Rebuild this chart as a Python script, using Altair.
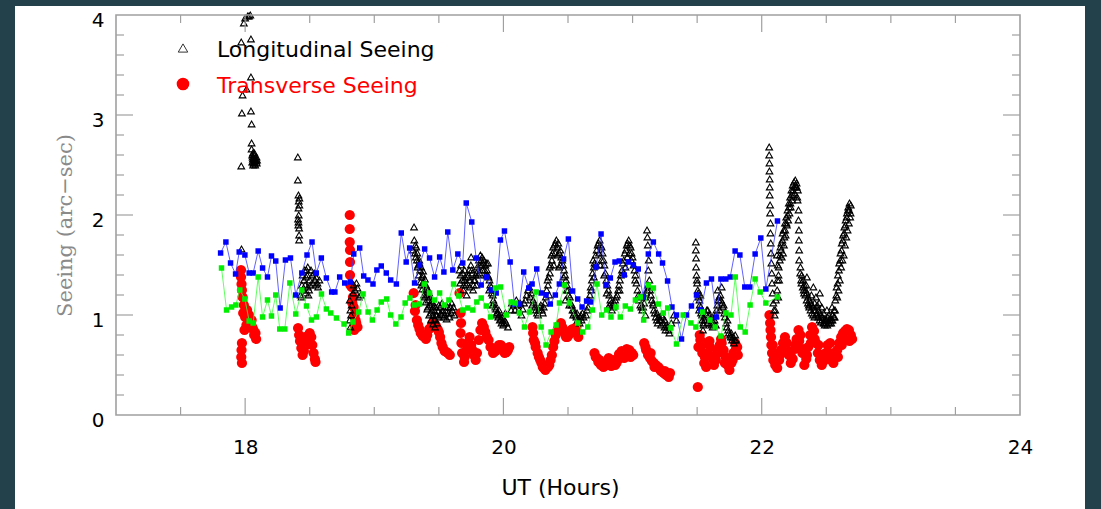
import altair as alt
import pandas as pd

# ---------------------------------------------------------------- data
# Longitudinal seeing (arc-sec) against UT hours
longitudinal = [
    (17.990, 3.92), (18.000, 3.97), (18.020, 3.99), (18.030, 3.99), (18.040, 4.00),
    (17.970, 3.73), (18.045, 3.76), (18.045, 3.38), (18.011, 3.26), (17.980, 3.20),
    (17.975, 3.02), (18.045, 3.04), (18.050, 2.91), (18.050, 2.72), (17.970, 2.49),
    (18.050, 2.66), (18.055, 2.60), (18.060, 2.56), (18.065, 2.52), (18.070, 2.55),
    (18.075, 2.52), (18.080, 2.58), (18.060, 2.62), (18.070, 2.60), (18.085, 2.54),
    (18.055, 2.53), (18.065, 2.57), (18.078, 2.50), (18.090, 2.52), (17.972, 1.66),
    (18.058, 2.58), (18.068, 2.54), (18.072, 2.62), (18.082, 2.55), (18.088, 2.58),
    (18.062, 2.50), (18.092, 2.55),
    (18.408, 2.58), (18.408, 2.35), (18.413, 2.20), (18.415, 2.14), (18.413, 2.07),
    (18.415, 2.00), (18.413, 1.93), (18.418, 1.87), (18.418, 1.75), (18.410, 1.96),
    (18.420, 2.10), (18.418, 1.80), (18.420, 2.17), (18.412, 1.90),
    (18.460, 1.45), (18.485, 1.48), (18.472, 1.38), (18.450, 1.25), (18.437, 1.18),
    (18.485, 1.28), (18.525, 1.32), (18.550, 1.38), (18.565, 1.28), (18.510, 1.45),
    (18.440, 1.30), (18.470, 1.22), (18.500, 1.35), (18.535, 1.42), (18.455, 1.35),
    (18.430, 1.20), (18.495, 1.25), (18.545, 1.30), (18.575, 1.35),
    (18.445, 1.40), (18.465, 1.30), (18.480, 1.40), (18.505, 1.30), (18.520, 1.40),
    (18.540, 1.35), (18.560, 1.32), (18.475, 1.45), (18.490, 1.20),
    (18.810, 1.15), (18.815, 1.05), (18.810, 0.95), (18.835, 1.22), (18.870, 1.27),
    (18.895, 1.20), (18.825, 1.10), (18.815, 0.88), (18.850, 1.25), (18.880, 1.18),
    (18.820, 1.00), (18.840, 1.30), (18.862, 1.32),
    (19.308, 1.88), (19.310, 1.75), (19.300, 1.65), (19.322, 1.58), (19.335, 1.48),
    (19.345, 1.40), (19.358, 1.33), (19.372, 1.26), (19.385, 1.20), (19.398, 1.13),
    (19.410, 1.06), (19.425, 1.00), (19.440, 0.95), (19.455, 0.91), (19.470, 0.88),
    (19.315, 1.62), (19.330, 1.55), (19.340, 1.50), (19.355, 1.45), (19.368, 1.38),
    (19.380, 1.32), (19.395, 1.26), (19.408, 1.20), (19.420, 1.15), (19.432, 1.10),
    (19.445, 1.05), (19.458, 1.00), (19.470, 0.96), (19.485, 0.92), (19.500, 0.98),
    (19.515, 1.02), (19.530, 1.05), (19.545, 1.00), (19.560, 0.96), (19.575, 1.02),
    (19.590, 1.08), (19.605, 1.05), (19.620, 1.00), (19.325, 1.68), (19.350, 1.52),
    (19.375, 1.40), (19.400, 1.30), (19.425, 1.22), (19.450, 1.12), (19.475, 1.08),
    (19.500, 1.10), (19.525, 1.12), (19.550, 1.08), (19.600, 1.12),
    (19.318, 1.70), (19.333, 1.62), (19.348, 1.55), (19.362, 1.48), (19.378, 1.44),
    (19.392, 1.36), (19.405, 1.28), (19.418, 1.25), (19.430, 1.18), (19.442, 1.14),
    (19.455, 1.08), (19.468, 1.04), (19.480, 1.00), (19.495, 1.04), (19.510, 1.08),
    (19.522, 1.00), (19.538, 0.98), (19.552, 1.04), (19.568, 1.08), (19.582, 0.98),
    (19.595, 1.02), (19.612, 1.08), (19.365, 1.30), (19.390, 1.18), (19.415, 1.08),
    (19.438, 1.02), (19.462, 0.95),
    (19.660, 1.45), (19.672, 1.50), (19.685, 1.42), (19.698, 1.35), (19.710, 1.30),
    (19.722, 1.38), (19.735, 1.45), (19.748, 1.50), (19.760, 1.42), (19.772, 1.35),
    (19.785, 1.40), (19.798, 1.48), (19.810, 1.55), (19.822, 1.60), (19.835, 1.58),
    (19.848, 1.55), (19.860, 1.50), (19.872, 1.45), (19.885, 1.38), (19.898, 1.30),
    (19.910, 1.22), (19.922, 1.15), (19.935, 1.08), (19.948, 1.02), (19.960, 0.98),
    (19.972, 0.95), (19.985, 0.92), (19.998, 0.90), (20.010, 0.95), (20.022, 0.92),
    (20.035, 0.88), (19.665, 1.32), (19.690, 1.25), (19.715, 1.20), (19.740, 1.28),
    (19.765, 1.25), (19.790, 1.30), (19.815, 1.42), (19.840, 1.45), (19.865, 1.40),
    (19.890, 1.25), (19.915, 1.10), (19.940, 1.00), (19.965, 1.05), (19.990, 0.98),
    (20.015, 1.02), (19.700, 1.45), (19.750, 1.58), (19.830, 1.50), (19.880, 1.52),
    (19.668, 1.40), (19.680, 1.35), (19.692, 1.30), (19.705, 1.38), (19.718, 1.32),
    (19.730, 1.40), (19.742, 1.35), (19.755, 1.45), (19.768, 1.30), (19.780, 1.35),
    (19.792, 1.42), (19.805, 1.40), (19.818, 1.50), (19.828, 1.55), (19.842, 1.52),
    (19.855, 1.45), (19.868, 1.52), (19.878, 1.40), (19.892, 1.35), (19.905, 1.28),
    (19.918, 1.20), (19.930, 1.12), (19.943, 1.06), (19.955, 1.02), (19.968, 1.00),
    (19.980, 0.96), (19.993, 0.94), (20.005, 0.92),
    (20.060, 1.05), (20.080, 1.10), (20.100, 1.15), (20.120, 1.05), (20.140, 1.00),
    (20.160, 1.12), (20.180, 1.20), (20.200, 1.28), (20.215, 1.22), (20.230, 1.15),
    (20.245, 1.08), (20.260, 1.02), (20.275, 1.05), (20.290, 1.10), (20.305, 1.02),
    (20.320, 1.12), (20.335, 1.25), (20.350, 1.38), (20.365, 1.50), (20.380, 1.62),
    (20.395, 1.70), (20.410, 1.75), (20.425, 1.72), (20.440, 1.65), (20.455, 1.55),
    (20.470, 1.45), (20.485, 1.35), (20.500, 1.25), (20.515, 1.18), (20.530, 1.10),
    (20.545, 1.05), (20.560, 1.00), (20.575, 0.95), (20.590, 0.92), (20.605, 0.95),
    (20.620, 0.98), (20.345, 1.30), (20.360, 1.42), (20.375, 1.55), (20.400, 1.62),
    (20.420, 1.60), (20.445, 1.50), (20.465, 1.38), (20.490, 1.25), (20.510, 1.10),
    (20.540, 1.00), (20.570, 1.02), (20.600, 1.00), (20.355, 1.20), (20.390, 1.50),
    (20.430, 1.48), (20.480, 1.15),
    (20.065, 1.12), (20.090, 1.05), (20.110, 1.10), (20.130, 1.12), (20.150, 1.06),
    (20.170, 1.15), (20.190, 1.25), (20.208, 1.18), (20.222, 1.10), (20.238, 1.12),
    (20.252, 1.05), (20.268, 1.00), (20.282, 1.08), (20.298, 1.05), (20.312, 1.08),
    (20.328, 1.18), (20.342, 1.35), (20.358, 1.48), (20.372, 1.60), (20.385, 1.68),
    (20.402, 1.72), (20.418, 1.68), (20.432, 1.62), (20.448, 1.58), (20.462, 1.50),
    (20.478, 1.40), (20.492, 1.30), (20.505, 1.20), (20.520, 1.12), (20.535, 1.05),
    (20.550, 1.02), (20.565, 0.98), (20.580, 0.96), (20.595, 0.98), (20.612, 1.02),
    (20.640, 1.00), (20.655, 1.08), (20.670, 1.20), (20.685, 1.35), (20.700, 1.48),
    (20.715, 1.60), (20.730, 1.70), (20.745, 1.75), (20.760, 1.68), (20.775, 1.55),
    (20.790, 1.42), (20.805, 1.30), (20.820, 1.20), (20.835, 1.12), (20.850, 1.08),
    (20.865, 1.15), (20.680, 1.25), (20.700, 1.38), (20.720, 1.50), (20.740, 1.62),
    (20.760, 1.55), (20.780, 1.40), (20.800, 1.22), (20.820, 1.10), (20.840, 1.05),
    (20.695, 1.55), (20.750, 1.50),
    (20.648, 1.05), (20.662, 1.15), (20.676, 1.28), (20.690, 1.42), (20.705, 1.52),
    (20.722, 1.65), (20.736, 1.72), (20.752, 1.70), (20.768, 1.62), (20.782, 1.50),
    (20.797, 1.35), (20.812, 1.25), (20.828, 1.15), (20.842, 1.10), (20.858, 1.12),
    (20.872, 1.18),
    (20.880, 1.20), (20.895, 1.30), (20.910, 1.40), (20.925, 1.52), (20.940, 1.62),
    (20.955, 1.70), (20.970, 1.75), (20.985, 1.68), (21.000, 1.58), (21.015, 1.45),
    (21.030, 1.32), (21.045, 1.20), (21.060, 1.10), (20.900, 1.25), (20.930, 1.42),
    (20.960, 1.58), (20.990, 1.55), (21.020, 1.35), (21.050, 1.15), (20.945, 1.48),
    (20.975, 1.62),
    (20.888, 1.25), (20.902, 1.35), (20.918, 1.45), (20.932, 1.55), (20.948, 1.65),
    (20.962, 1.72), (20.978, 1.70), (20.992, 1.62), (21.008, 1.50), (21.022, 1.40),
    (21.038, 1.25), (21.052, 1.18), (21.068, 1.08),
    (21.112, 1.85), (21.115, 1.78), (21.118, 1.70), (21.075, 1.05), (21.090, 1.12),
    (21.105, 1.22), (21.120, 1.30), (21.135, 1.25), (21.150, 1.15), (21.165, 1.05),
    (21.180, 0.98), (21.195, 0.92), (21.210, 0.95), (21.225, 1.00), (21.240, 0.92),
    (21.255, 0.85), (21.270, 0.88), (21.285, 0.82), (21.100, 1.00), (21.130, 1.35),
    (21.160, 1.10), (21.190, 1.02), (21.220, 0.90), (21.250, 0.95), (21.125, 1.55),
    (21.122, 1.45), (21.300, 0.92), (21.320, 1.00), (21.340, 0.95),
    (21.082, 1.08), (21.098, 1.18), (21.112, 1.25), (21.128, 1.28), (21.142, 1.20),
    (21.158, 1.12), (21.172, 1.02), (21.188, 0.95), (21.202, 0.98), (21.218, 0.95),
    (21.232, 0.98), (21.248, 0.88), (21.262, 0.90), (21.278, 0.85),
    (21.490, 1.73), (21.490, 1.65), (21.492, 1.57), (21.492, 1.48), (21.495, 1.40),
    (21.500, 1.32), (21.505, 1.25), (21.510, 1.18), (21.520, 1.10), (21.530, 1.02),
    (21.540, 0.95), (21.550, 0.90), (21.560, 0.98), (21.575, 1.05), (21.590, 1.00),
    (21.605, 0.92), (21.620, 0.88), (21.635, 0.95), (21.650, 1.05), (21.665, 1.15),
    (21.680, 1.20), (21.695, 1.12), (21.710, 1.02), (21.725, 0.92), (21.740, 0.85),
    (21.755, 0.80), (21.770, 0.75), (21.785, 0.72), (21.800, 0.75), (21.515, 1.05),
    (21.545, 0.85), (21.580, 0.92), (21.615, 0.98), (21.645, 0.90), (21.675, 1.05),
    (21.705, 1.10), (21.735, 0.95), (21.765, 0.82), (21.795, 0.80), (21.525, 1.20),
    (21.660, 1.25), (21.690, 1.28),
    (21.498, 1.35), (21.508, 1.22), (21.518, 1.15), (21.528, 1.08), (21.538, 1.00),
    (21.548, 0.92), (21.558, 0.95), (21.568, 1.02), (21.582, 1.05), (21.598, 0.95),
    (21.612, 0.90), (21.628, 0.92), (21.642, 1.00), (21.656, 1.10), (21.670, 1.18),
    (21.685, 1.15), (21.700, 1.08), (21.715, 0.98), (21.730, 0.88), (21.745, 0.82),
    (21.760, 0.78), (21.775, 0.78), (21.790, 0.75),
    (22.058, 2.68), (22.058, 2.60), (22.060, 2.52), (22.060, 2.44), (22.062, 2.36),
    (22.062, 2.28), (22.062, 2.20), (22.065, 2.10), (22.065, 2.02), (22.068, 1.92),
    (22.068, 1.82), (22.070, 1.72), (22.072, 1.62), (22.075, 1.52), (22.078, 1.42),
    (22.080, 1.32), (22.085, 1.22), (22.090, 1.12), (22.095, 1.05), (22.100, 1.00),
    (22.105, 1.05), (22.110, 1.15),
    (22.120, 1.25), (22.130, 1.40), (22.140, 1.55), (22.150, 1.65), (22.160, 1.75),
    (22.170, 1.85), (22.180, 1.92), (22.190, 1.98), (22.200, 2.05), (22.210, 2.12),
    (22.220, 2.18), (22.230, 2.25), (22.240, 2.30), (22.250, 2.33), (22.260, 2.35),
    (22.270, 2.32), (22.280, 2.25), (22.135, 1.35), (22.155, 1.58), (22.175, 1.78),
    (22.195, 1.90), (22.215, 2.02), (22.235, 2.15), (22.255, 2.22), (22.275, 2.18),
    (22.125, 1.50), (22.145, 1.68), (22.165, 1.62), (22.185, 1.80), (22.205, 1.95),
    (22.225, 2.08), (22.245, 2.20), (22.265, 2.28), (22.118, 1.60), (22.128, 1.18),
    (22.122, 1.35), (22.132, 1.48), (22.142, 1.60), (22.152, 1.72), (22.162, 1.82),
    (22.172, 1.70), (22.182, 1.85), (22.192, 1.92), (22.202, 2.00), (22.212, 2.08),
    (22.222, 2.12), (22.232, 2.20), (22.242, 2.25), (22.252, 2.28), (22.262, 2.30),
    (22.272, 2.28), (22.278, 2.15),
    (22.285, 2.05), (22.285, 1.95), (22.288, 1.85), (22.288, 1.75), (22.290, 1.65),
    (22.290, 1.55),
    (22.300, 1.48), (22.310, 1.40), (22.320, 1.35), (22.330, 1.30), (22.340, 1.25),
    (22.350, 1.22), (22.360, 1.18), (22.370, 1.15), (22.380, 1.12), (22.390, 1.10),
    (22.400, 1.08), (22.410, 1.12), (22.420, 1.18), (22.430, 1.10), (22.440, 1.05),
    (22.450, 1.02), (22.460, 1.00), (22.470, 0.98), (22.480, 1.02), (22.490, 0.96),
    (22.500, 0.95), (22.510, 0.98), (22.520, 1.00), (22.530, 0.97), (22.540, 0.95),
    (22.550, 1.00), (22.560, 1.05), (22.570, 1.15), (22.580, 1.28), (22.590, 1.40),
    (22.600, 1.52), (22.610, 1.62), (22.620, 1.72), (22.630, 1.80), (22.640, 1.88),
    (22.650, 1.95), (22.660, 2.02), (22.670, 2.08), (22.680, 2.12), (22.690, 2.10),
    (22.305, 1.35), (22.325, 1.25), (22.345, 1.30), (22.365, 1.10), (22.385, 1.20),
    (22.405, 1.05), (22.425, 1.00), (22.445, 1.12), (22.465, 1.08), (22.485, 0.92),
    (22.505, 1.05), (22.525, 0.92), (22.545, 1.08), (22.565, 0.98), (22.585, 1.18),
    (22.605, 1.35), (22.625, 1.55), (22.645, 1.70), (22.665, 1.85), (22.685, 1.98),
    (22.595, 1.25), (22.615, 1.48), (22.635, 1.60), (22.655, 1.78), (22.675, 1.92),
    (22.450, 1.22), (22.400, 1.28), (22.350, 1.38),
    (22.298, 1.42), (22.308, 1.32), (22.318, 1.28), (22.328, 1.22), (22.338, 1.20),
    (22.348, 1.15), (22.358, 1.12), (22.368, 1.08), (22.378, 1.05), (22.388, 1.02),
    (22.398, 1.00), (22.408, 0.98), (22.418, 1.05), (22.428, 1.02), (22.438, 0.98),
    (22.448, 0.95), (22.458, 0.93), (22.468, 0.95), (22.478, 0.92), (22.488, 0.90),
    (22.498, 0.92), (22.508, 0.90), (22.518, 0.93), (22.528, 0.95), (22.538, 0.92),
    (22.548, 0.95), (22.558, 0.98), (22.568, 1.05), (22.578, 1.20), (22.588, 1.32),
    (22.598, 1.45), (22.608, 1.55), (22.618, 1.65), (22.628, 1.75), (22.638, 1.82),
    (22.648, 1.90), (22.658, 1.98), (22.668, 2.05), (22.678, 2.05), (22.688, 2.02),
]

# Transverse seeing (arc-sec) against UT hours
transverse = [
    (17.968, 1.45), (17.968, 1.38), (17.972, 1.31), (17.975, 1.25), (17.980, 1.18),
    (17.990, 1.10), (17.985, 1.02), (18.000, 0.98), (18.015, 1.05), (18.030, 1.00),
    (18.040, 0.94), (18.055, 0.88), (18.070, 0.80), (18.085, 0.76), (18.050, 0.95),
    (18.010, 0.90), (17.995, 0.85), (17.975, 0.72), (17.972, 0.65), (17.970, 0.58),
    (17.975, 0.52), (18.065, 0.85), (18.080, 0.82),
    (18.410, 0.87), (18.418, 0.80), (18.425, 0.74), (18.435, 0.67), (18.445, 0.60),
    (18.455, 0.64), (18.470, 0.70), (18.485, 0.77), (18.500, 0.82), (18.512, 0.78),
    (18.520, 0.70), (18.530, 0.62), (18.540, 0.56), (18.545, 0.53), (18.462, 0.78),
    (18.810, 2.00), (18.810, 1.86), (18.810, 1.73), (18.812, 1.65), (18.812, 1.53),
    (18.812, 1.40), (18.825, 1.28), (18.835, 1.18), (18.840, 1.08), (18.848, 1.00),
    (18.850, 0.90), (18.830, 1.12), (18.815, 1.30), (18.855, 0.95), (18.845, 0.85),
    (18.860, 0.92), (18.870, 0.88),
    (19.305, 1.22), (19.315, 1.04), (19.330, 0.95), (19.350, 0.86), (19.375, 0.79),
    (19.400, 0.76), (19.425, 0.86), (19.450, 0.92), (19.475, 0.90), (19.500, 0.83),
    (19.520, 0.72), (19.545, 0.64), (19.570, 0.62), (19.585, 0.60), (19.320, 1.10),
    (19.340, 0.90), (19.360, 0.82), (19.390, 0.80), (19.410, 0.80), (19.440, 0.88),
    (19.460, 0.93), (19.490, 0.86), (19.510, 0.78), (19.530, 0.68), (19.560, 0.63),
    (19.660, 1.22), (19.668, 1.02), (19.668, 0.82), (19.680, 0.62), (19.695, 0.53),
    (19.715, 0.65), (19.738, 0.78), (19.760, 0.65), (19.785, 0.55), (19.810, 0.75),
    (19.835, 0.92), (19.860, 0.83), (19.885, 0.75), (19.920, 0.62), (19.955, 0.67),
    (19.980, 0.70), (20.000, 0.66), (20.025, 0.63), (20.045, 0.68), (19.672, 0.92),
    (19.675, 0.72), (19.700, 0.58), (19.725, 0.72), (19.750, 0.70), (19.770, 0.60),
    (19.795, 0.62), (19.822, 0.85), (19.848, 0.88), (19.872, 0.78), (19.900, 0.68),
    (19.940, 0.64), (19.965, 0.70), (19.990, 0.68), (20.010, 0.62), (20.035, 0.65),
    (20.225, 0.88), (20.235, 0.75), (20.250, 0.68), (20.265, 0.62), (20.285, 0.55),
    (20.305, 0.48), (20.325, 0.45), (20.345, 0.48), (20.365, 0.55), (20.385, 0.68),
    (20.405, 0.80), (20.425, 0.87), (20.445, 0.92), (20.465, 0.85), (20.485, 0.78),
    (20.505, 0.80), (20.525, 0.85), (20.545, 0.83), (20.565, 0.88), (20.580, 0.78),
    (20.230, 0.82), (20.245, 0.72), (20.275, 0.58), (20.295, 0.52), (20.315, 0.47),
    (20.355, 0.50), (20.375, 0.60), (20.395, 0.74), (20.415, 0.84), (20.435, 0.90),
    (20.455, 0.88), (20.475, 0.82), (20.495, 0.78), (20.515, 0.83), (20.535, 0.86),
    (20.555, 0.86), (20.575, 0.82),
    (20.705, 0.62), (20.725, 0.57), (20.745, 0.55), (20.765, 0.52), (20.785, 0.50),
    (20.805, 0.53), (20.825, 0.55), (20.845, 0.52), (20.865, 0.50), (20.885, 0.55),
    (20.905, 0.58), (20.925, 0.60), (20.945, 0.63), (20.965, 0.62), (20.985, 0.58),
    (21.005, 0.60), (20.715, 0.58), (20.735, 0.53), (20.755, 0.50), (20.775, 0.48),
    (20.795, 0.50), (20.815, 0.57), (20.835, 0.49), (20.855, 0.55), (20.875, 0.52),
    (20.895, 0.61), (20.915, 0.64), (20.935, 0.57), (20.955, 0.66), (20.975, 0.65),
    (20.995, 0.62),
    (21.090, 0.72), (21.105, 0.65), (21.120, 0.60), (21.135, 0.57), (21.150, 0.54),
    (21.165, 0.52), (21.180, 0.50), (21.200, 0.48), (21.220, 0.44), (21.240, 0.42),
    (21.260, 0.40), (21.280, 0.38), (21.100, 0.68), (21.140, 0.62), (21.170, 0.48),
    (21.210, 0.46), (21.250, 0.44), (21.290, 0.42),
    (21.505, 0.28), (21.510, 0.68), (21.525, 0.75), (21.540, 0.62), (21.555, 0.52),
    (21.570, 0.48), (21.585, 0.62), (21.600, 0.68), (21.615, 0.58), (21.630, 0.50),
    (21.645, 0.55), (21.660, 0.62), (21.675, 0.70), (21.690, 0.72), (21.705, 0.65),
    (21.720, 0.58), (21.735, 0.50), (21.750, 0.45), (21.765, 0.52), (21.780, 0.62),
    (21.795, 0.72), (21.810, 0.68), (21.520, 0.80), (21.535, 0.70), (21.560, 0.58),
    (21.595, 0.74), (21.625, 0.55), (21.655, 0.65), (21.685, 0.76), (21.715, 0.52),
    (21.745, 0.52), (21.775, 0.55), (21.800, 0.66), (21.815, 0.60),
    (22.060, 1.00), (22.065, 0.92), (22.068, 0.85), (22.072, 0.78), (22.075, 0.70),
    (22.080, 0.62), (22.090, 0.55), (22.105, 0.50), (22.120, 0.47), (22.135, 0.55),
    (22.150, 0.65), (22.165, 0.72), (22.180, 0.78), (22.195, 0.72), (22.210, 0.60),
    (22.225, 0.52), (22.240, 0.56), (22.255, 0.66), (22.270, 0.76), (22.285, 0.85),
    (22.300, 0.80), (22.315, 0.62), (22.330, 0.50), (22.345, 0.56), (22.360, 0.68),
    (22.375, 0.80), (22.390, 0.88), (22.405, 0.84), (22.420, 0.72), (22.435, 0.62),
    (22.450, 0.55), (22.465, 0.50), (22.480, 0.54), (22.495, 0.62), (22.510, 0.70),
    (22.525, 0.62), (22.540, 0.55), (22.555, 0.52), (22.570, 0.58), (22.585, 0.65),
    (22.600, 0.72), (22.615, 0.78), (22.630, 0.82), (22.645, 0.84), (22.660, 0.86),
    (22.675, 0.85), (22.690, 0.80), (22.700, 0.76), (22.085, 0.70), (22.100, 0.62),
    (22.140, 0.60), (22.170, 0.68), (22.200, 0.64), (22.230, 0.58), (22.260, 0.70),
    (22.290, 0.74), (22.320, 0.66), (22.350, 0.60), (22.380, 0.72), (22.410, 0.76),
    (22.440, 0.70), (22.470, 0.60), (22.500, 0.58), (22.530, 0.72), (22.560, 0.62),
    (22.590, 0.58), (22.620, 0.70), (22.650, 0.76), (22.680, 0.74),
]

# Blue sampled series (squares joined by a line)
blue_ut = [
    17.810, 17.851, 17.887, 17.926, 17.954, 17.998, 18.031, 18.062, 18.101, 18.135,
    18.173, 18.204, 18.237, 18.271, 18.312, 18.351, 18.392, 18.439, 18.479, 18.518,
    18.551, 18.590, 18.629, 18.670, 18.695, 18.732, 18.771, 18.815, 18.841, 18.887,
    18.918, 18.951, 18.990, 19.020, 19.054, 19.093, 19.127, 19.171, 19.209, 19.247,
    19.274, 19.312, 19.351, 19.390, 19.428, 19.467, 19.506, 19.539, 19.569, 19.608,
    19.647, 19.685, 19.712, 19.755, 19.789, 19.828, 19.867, 19.906, 19.944, 19.977,
    20.008, 20.052, 20.085, 20.124, 20.157, 20.196, 20.222, 20.258, 20.292, 20.330,
    20.363, 20.402, 20.433, 20.466, 20.503, 20.536, 20.575, 20.609, 20.644, 20.678,
    20.717, 20.756, 20.794, 20.828, 20.864, 20.897, 20.936, 20.969, 21.006, 21.044,
    21.083, 21.122, 21.161, 21.202, 21.232, 21.271, 21.305, 21.340, 21.379, 21.418,
    21.456, 21.495, 21.529, 21.572, 21.611, 21.650, 21.684, 21.722, 21.756, 21.794,
    21.831, 21.869, 21.908, 21.949, 21.993, 22.032, 22.122,
]
blue_seeing = [
    1.62, 1.73, 1.52, 1.41, 1.63, 1.60, 1.42, 1.42, 1.64, 1.47,
    1.38, 1.59, 1.54, 1.07, 1.55, 1.57, 1.20, 1.42, 1.60, 1.73,
    1.42, 1.57, 1.37, 1.23, 1.23, 1.38, 1.32, 1.33, 1.61, 1.67,
    1.39, 1.35, 1.31, 1.45, 1.49, 1.42, 1.35, 1.31, 1.82, 1.53,
    1.67, 1.32, 1.50, 1.66, 1.57, 1.38, 1.58, 1.43, 1.83, 1.45,
    1.61, 1.52, 2.12, 1.93, 1.57, 1.30, 1.38, 1.25, 1.22, 1.75,
    1.84, 1.53, 1.11, 1.11, 1.43, 1.27, 1.31, 1.46, 1.22, 1.20,
    1.11, 1.20, 1.31, 1.56, 1.76, 1.24, 1.16, 1.08, 1.14, 1.13,
    1.48, 1.81, 1.30, 1.37, 1.53, 1.54, 1.40, 1.53, 1.50, 1.46,
    1.18, 1.61, 1.73, 1.61, 1.52, 1.34, 1.08, 1.00, 0.76, 1.00,
    1.09, 1.20, 1.05, 1.32, 1.36, 0.98, 1.36, 1.36, 1.38, 1.64,
    1.60, 1.28, 1.28, 1.61, 1.77, 1.26, 1.94,
]

# Green sampled series (squares joined by a line)
green_ut = [
    17.817, 17.856, 17.895, 17.928, 17.959, 17.998, 18.031, 18.062, 18.101, 18.135,
    18.173, 18.204, 18.237, 18.268, 18.307, 18.346, 18.392, 18.439, 18.475, 18.514,
    18.552, 18.591, 18.629, 18.663, 18.707, 18.766, 18.802, 18.835, 18.879, 18.913,
    18.952, 18.985, 19.022, 19.054, 19.096, 19.127, 19.167, 19.207, 19.239, 19.276,
    19.312, 19.351, 19.387, 19.428, 19.467, 19.506, 19.541, 19.578, 19.614, 19.655,
    19.686, 19.724, 19.763, 19.794, 19.828, 19.867, 19.900, 19.939, 19.978, 20.022,
    20.060, 20.091, 20.124, 20.163, 20.202, 20.253, 20.292, 20.330, 20.369, 20.408,
    20.434, 20.473, 20.511, 20.575, 20.614, 20.653, 20.689, 20.725, 20.761, 20.799,
    20.833, 20.872, 20.905, 20.944, 20.983, 21.022, 21.060, 21.086, 21.122, 21.161,
    21.200, 21.238, 21.272, 21.297, 21.340, 21.392, 21.452, 21.490, 21.542, 21.599,
    21.640, 21.684, 21.723, 21.762, 21.795, 21.834, 21.872, 21.910, 21.949, 21.988,
    22.032, 22.122,
]
green_seeing = [
    1.47, 1.05, 1.08, 1.10, 1.25, 1.16, 0.94, 0.92, 1.38, 0.98,
    1.15, 0.99, 1.20, 0.86, 0.86, 1.32, 1.01, 1.25, 1.09, 0.95,
    0.98, 1.21, 1.06, 1.02, 0.97, 0.91, 0.82, 0.93, 1.03, 1.21,
    1.03, 0.95, 1.05, 1.13, 1.16, 1.00, 0.91, 0.98, 1.12, 1.17,
    1.10, 1.11, 1.31, 1.22, 1.15, 1.22, 1.10, 1.15, 1.31, 1.19,
    1.05, 1.07, 1.05, 1.13, 1.17, 1.09, 0.98, 1.27, 1.28, 1.00,
    1.13, 1.12, 1.02, 0.88, 1.03, 1.23, 0.88, 0.70, 0.83, 0.90,
    1.12, 1.30, 1.12, 0.92, 0.83, 0.88, 1.05, 1.31, 1.00, 1.05,
    0.98, 1.08, 0.98, 1.09, 1.06, 1.15, 1.18, 0.95, 1.30, 1.27,
    1.11, 1.02, 1.07, 0.87, 0.71, 1.00, 0.92, 0.88, 1.03, 0.95,
    0.88, 0.79, 1.02, 1.00, 1.38, 0.88, 0.83, 1.10, 1.36, 1.23,
    1.12, 1.18,
]

# Axis tick positions
x_major_ticks = [18, 20, 22]
x_minor_ticks = [17.5, 18.5, 19, 19.5, 20.5, 21, 21.5, 22.5, 23, 23.5]
x_labels = [18, 20, 22, 24]
y_major_ticks = [1, 2, 3]
y_minor_ticks = [0.2, 0.4, 0.6, 0.8, 1.2, 1.4, 1.6, 1.8, 2.2, 2.4, 2.6, 2.8,
                 3.2, 3.4, 3.6, 3.8]
y_labels = [0, 1, 2, 3, 4]

# Legend entries
legend_text = ["Longitudinal Seeing", "Transverse Seeing"]

# ---------------------------------------------------------------- frames
long_df = pd.DataFrame(longitudinal, columns=["ut", "seeing"])
trans_df = pd.DataFrame(transverse, columns=["ut", "seeing"])
blue_df = pd.DataFrame({"ut": blue_ut, "seeing": blue_seeing})
green_df = pd.DataFrame({"ut": green_ut, "seeing": green_seeing})
one_row = pd.DataFrame({"k": [0]})

W, H = 904, 400
FRAME = "#a0a0a0"
SANS = "DejaVu Sans"

x_scale = alt.Scale(domain=[17, 24], nice=False, zero=False)
y_scale = alt.Scale(domain=[0, 4], nice=False, zero=True)

x_axis = alt.Axis(
    values=x_labels, format="d", ticks=False, domain=False, grid=False,
    labelFont=SANS, labelFontSize=20, labelColor="black", labelPadding=22,
    labelFlush=False, zindex=2,
    title="UT (Hours)", titleFont=SANS, titleFontSize=22,
    titleFontWeight="normal", titleColor="black",
    titleX=444, titleY=72, titleBaseline="middle",
)
y_axis = alt.Axis(
    values=y_labels, format="d", ticks=False, domain=False, grid=False,
    labelFont=SANS, labelFontSize=20, labelColor="black", labelPadding=12,
    labelBaseline="middle", labelOffset=5, labelFlush=False, zindex=2,
    title="Seeing (arc\u2212sec)", titleFont="DejaVu Serif", titleFontSize=21,
    titleFontWeight="normal", titleColor="#8a8a8a",
    titleAngle=270, titleAlign="center", titleBaseline="middle",
    titleX=-51, titleY=210,
)

X = alt.X("ut:Q", scale=x_scale, axis=x_axis)
Y = alt.Y("seeing:Q", scale=y_scale, axis=y_axis)

deco = alt.Chart(one_row)

# white page behind the plot
page = deco.mark_rect(color="white").encode(
    x=alt.value(-101), x2=alt.value(W + 65), y=alt.value(-9), y2=alt.value(H + 94)
)

red = alt.Chart(trans_df).mark_circle(size=105, color="#ff0000", opacity=1).encode(x=X, y=Y)
black = alt.Chart(long_df).mark_point(
    shape="triangle-up", filled=False, size=45, color="black", strokeWidth=1.1, opacity=1
).encode(x=X, y=Y)

blue_line = alt.Chart(blue_df).mark_line(color="#3a3aff", strokeWidth=1, opacity=0.8).encode(x=X, y=Y)
blue_pts = alt.Chart(blue_df).mark_square(size=30, color="#0000ff", opacity=1).encode(x=X, y=Y)
green_line = alt.Chart(green_df).mark_line(color="#3aff3a", strokeWidth=1, opacity=0.8).encode(x=X, y=Y)
green_pts = alt.Chart(green_df).mark_square(size=30, color="#00ee00", opacity=1).encode(x=X, y=Y)

# inward tick marks on all four sides
xt_major = pd.DataFrame({"ut": x_major_ticks})
xt_minor = pd.DataFrame({"ut": x_minor_ticks})
yt_major = pd.DataFrame({"seeing": y_major_ticks})
yt_minor = pd.DataFrame({"seeing": y_minor_ticks})


def x_ticks(df, length):
    bottom = alt.Chart(df).mark_rule(color=FRAME, strokeWidth=1.2).encode(
        x=X, y=alt.value(H), y2=alt.value(H - length))
    top = alt.Chart(df).mark_rule(color=FRAME, strokeWidth=1.2).encode(
        x=X, y=alt.value(0), y2=alt.value(length))
    return bottom + top


def y_ticks(df, length):
    left = alt.Chart(df).mark_rule(color=FRAME, strokeWidth=1.2).encode(
        y=Y, x=alt.value(0), x2=alt.value(length))
    right = alt.Chart(df).mark_rule(color=FRAME, strokeWidth=1.2).encode(
        y=Y, x=alt.value(W), x2=alt.value(W - length))
    return left + right


frame = deco.mark_rect(fill=None, stroke=FRAME, strokeWidth=1.6).encode(
    x=alt.value(0), x2=alt.value(W), y=alt.value(0), y2=alt.value(H)
)

# legend
leg_tri = deco.mark_point(shape="triangle-up", filled=False, size=90, color="#333333",
                          strokeWidth=1, opacity=1).encode(x=alt.value(67), y=alt.value(33))
leg_long = deco.mark_text(text=legend_text[0], align="left", baseline="middle",
                          font=SANS, fontSize=22, color="black").encode(
    x=alt.value(101), y=alt.value(35))
leg_dot = deco.mark_circle(size=160, color="#ff0000", opacity=1).encode(
    x=alt.value(67), y=alt.value(69))
leg_trans = deco.mark_text(text=legend_text[1], align="left", baseline="middle",
                           font=SANS, fontSize=22, color="#ff0000").encode(
    x=alt.value(101), y=alt.value(71))

chart = alt.layer(
    page,
    red, black, blue_line, blue_pts, green_line, green_pts,
    x_ticks(xt_major, 17), x_ticks(xt_minor, 8),
    y_ticks(yt_major, 17), y_ticks(yt_minor, 8),
    frame,
    leg_tri, leg_long, leg_dot, leg_trans,
).properties(
    width=W, height=H,
    autosize=alt.AutoSizeParams(type="none"),
    padding={"left": 116, "top": 15, "right": 81, "bottom": 94},
    background="#22414a",
).configure_view(stroke=None)

chart.save("out.html", embed_options={"renderer": "svg", "actions": False})
